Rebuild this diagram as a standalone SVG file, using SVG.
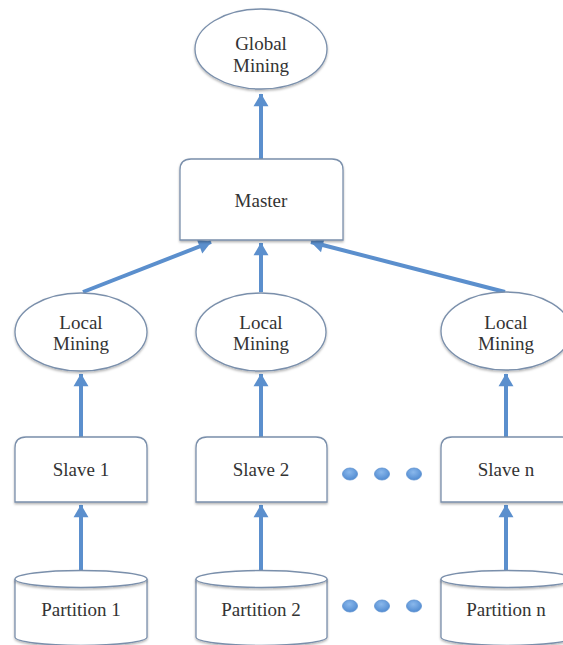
<svg xmlns="http://www.w3.org/2000/svg" width="563" height="645" viewBox="0 0 563 645">
  <defs>
    <marker id="arrow" markerUnits="userSpaceOnUse" markerWidth="16" markerHeight="16" viewBox="0 0 12 15" refX="11.5" refY="7.5" orient="auto">
      <path d="M0,0.5 L12,7.5 L0,14.5 z" fill="#5b8fcd"/>
    </marker>
    <filter id="shadow" x="-10%" y="-10%" width="120%" height="130%">
      <feDropShadow dx="0" dy="1.5" stdDeviation="1" flood-color="#000" flood-opacity="0.3"/>
    </filter>
    <radialGradient id="dotFill" cx="45%" cy="35%" r="70%">
      <stop offset="0" stop-color="#8ab8ec"/>
      <stop offset="1" stop-color="#4d88cf"/>
    </radialGradient>
  </defs>
  <style>
    .shape { fill: #ffffff; stroke: #7a8fab; stroke-width: 1.3; filter: url(#shadow); }
    .label { font-size: 19px; fill: #333333; text-anchor: middle; }
    .link { stroke: #5b8fcd; stroke-width: 4; fill: none; marker-end: url(#arrow); }
    .dot { fill: url(#dotFill); stroke: #5a8fcf; stroke-width: 0.8; }
  </style>
  <rect width="563" height="645" fill="#ffffff"/>

  <!-- connectors -->
  <g id="connectors">
    <line class="link" x1="261" y1="160" x2="261" y2="94"/>
    <line class="link" x1="83" y1="292" x2="211" y2="242"/>
    <line class="link" x1="261" y1="292" x2="261" y2="243"/>
    <line class="link" x1="505" y1="292" x2="311" y2="242"/>
    <line class="link" x1="81" y1="438" x2="81" y2="374"/>
    <line class="link" x1="261" y1="438" x2="261" y2="374"/>
    <line class="link" x1="506" y1="438" x2="506" y2="374"/>
    <line class="link" x1="81" y1="571" x2="81" y2="505"/>
    <line class="link" x1="261" y1="571" x2="261" y2="505"/>
    <line class="link" x1="506" y1="571" x2="506" y2="505"/>
  </g>

  <g font-family="'Liberation Serif', 'DejaVu Serif', 'Times New Roman', serif">
    <!-- top level -->
    <g id="global-mining">
      <ellipse class="shape" cx="261" cy="49" rx="66" ry="40"/>
      <text class="label" x="261" y="50">Global</text>
      <text class="label" x="261" y="72">Mining</text>
    </g>

    <g id="master">
      <path class="shape" d="M180,240 V170 Q180,159 191,159 H332 Q343,159 343,170 V240 Z"/>
      <text class="label" x="261" y="207">Master</text>
    </g>

    <!-- local mining -->
    <g id="local-mining-1">
      <ellipse class="shape" cx="81" cy="332" rx="66" ry="39"/>
      <text class="label" x="81" y="329">Local</text>
      <text class="label" x="81" y="350">Mining</text>
    </g>
    <g id="local-mining-2">
      <ellipse class="shape" cx="261" cy="332" rx="65" ry="39"/>
      <text class="label" x="261" y="329">Local</text>
      <text class="label" x="261" y="350">Mining</text>
    </g>
    <g id="local-mining-n">
      <ellipse class="shape" cx="506" cy="331" rx="65" ry="39"/>
      <text class="label" x="506" y="329">Local</text>
      <text class="label" x="506" y="350">Mining</text>
    </g>

    <!-- slaves -->
    <g id="slave-1">
      <path class="shape" d="M15,502 V448 Q15,437 26,437 H136 Q147,437 147,448 V502 Z"/>
      <text class="label" x="81" y="476">Slave 1</text>
    </g>
    <g id="slave-2">
      <path class="shape" d="M196,502 V448 Q196,437 207,437 H316 Q327,437 327,448 V502 Z"/>
      <text class="label" x="261" y="476">Slave 2</text>
    </g>
    <g id="slave-n">
      <path class="shape" d="M441,502 V448 Q441,437 452,437 H562 Q573,437 573,448 V502 Z"/>
      <text class="label" x="506" y="476">Slave n</text>
    </g>

    <!-- partitions -->
    <g id="partition-1">
      <path class="shape" d="M15,579 V637 A66,8.5 0 0 0 147,637 V579"/>
      <ellipse class="shape" cx="81" cy="579" rx="66" ry="8.5"/>
      <text class="label" x="81" y="616">Partition 1</text>
    </g>
    <g id="partition-2">
      <path class="shape" d="M196,579 V637 A65.5,8.5 0 0 0 327,637 V579"/>
      <ellipse class="shape" cx="261.5" cy="579" rx="65.5" ry="8.5"/>
      <text class="label" x="261" y="616">Partition 2</text>
    </g>
    <g id="partition-n">
      <path class="shape" d="M441,579 V637 A66,8.5 0 0 0 573,637 V579"/>
      <ellipse class="shape" cx="507" cy="579" rx="66" ry="8.5"/>
      <text class="label" x="506" y="616">Partition n</text>
    </g>
  </g>

  <!-- ellipsis dots -->
  <g id="dots-slaves">
    <ellipse class="dot" cx="350" cy="474" rx="7.5" ry="6"/>
    <ellipse class="dot" cx="382" cy="474" rx="7.5" ry="6"/>
    <ellipse class="dot" cx="414" cy="474" rx="7.5" ry="6"/>
  </g>
  <g id="dots-partitions">
    <ellipse class="dot" cx="350" cy="606" rx="7.5" ry="6"/>
    <ellipse class="dot" cx="382" cy="606" rx="7.5" ry="6"/>
    <ellipse class="dot" cx="414" cy="606" rx="7.5" ry="6"/>
  </g>
</svg>
